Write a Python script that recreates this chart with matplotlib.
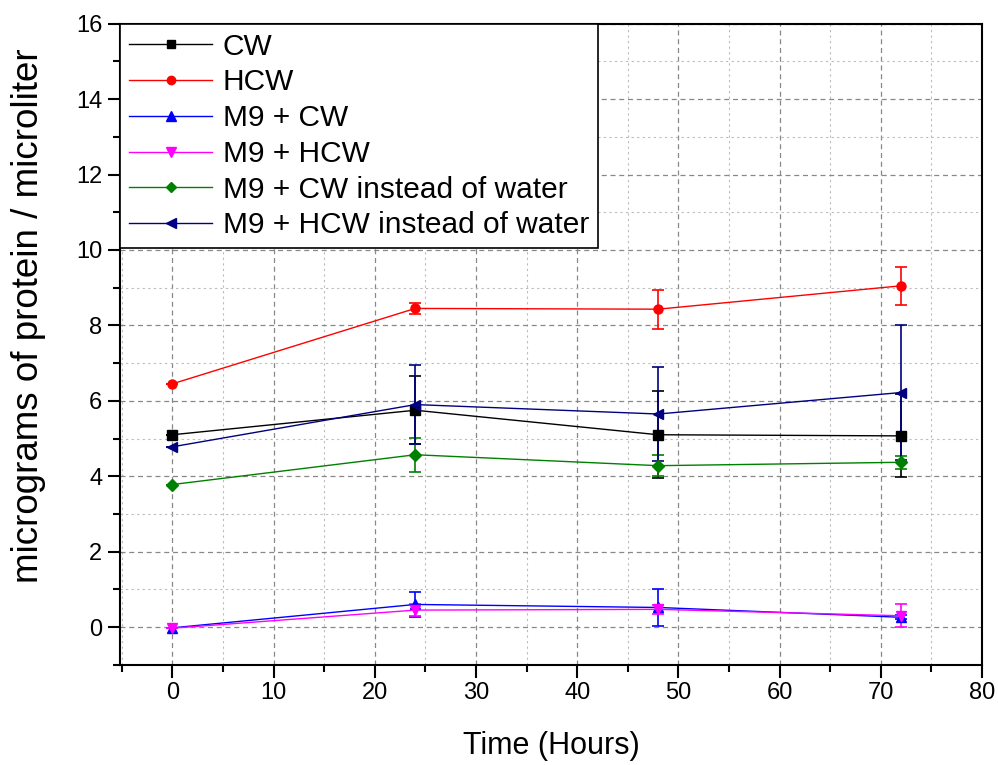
import matplotlib
matplotlib.use("Agg")
import matplotlib.pyplot as plt
from matplotlib.lines import Line2D
from matplotlib.ticker import MultipleLocator

plt.rcParams['font.family'] = ['Liberation Sans', 'DejaVu Sans']

# data
hours = [0, 24, 48, 72]
labels = ["CW", "HCW", "M9 + CW", "M9 + HCW",
          "M9 + CW instead of water", "M9 + HCW instead of water"]
cw = [5.1, 5.75, 5.1, 5.07]
cw_err = [0, 0.9, 1.15, 1.1]
hcw = [6.45, 8.45, 8.43, 9.05]
hcw_err = [0, 0.15, 0.52, 0.5]
m9_cw = [-0.02, 0.6, 0.52, 0.26]
m9_cw_err = [0, 0.33, 0.5, 0.05]
m9_hcw = [-0.03, 0.45, 0.47, 0.3]
m9_hcw_err = [0, 0.15, 0.12, 0.3]
m9_cw_w = [3.78, 4.57, 4.28, 4.37]
m9_cw_w_err = [0, 0.45, 0.27, 0.17]
m9_hcw_w = [4.78, 5.9, 5.65, 6.22]
m9_hcw_w_err = [0, 1.05, 1.25, 1.8]

series = [cw, hcw, m9_cw, m9_hcw, m9_cw_w, m9_hcw_w]
errs = [cw_err, hcw_err, m9_cw_err, m9_hcw_err, m9_cw_w_err, m9_hcw_w_err]
colors = ['black', '#ff0000', '#0000ff', '#ff00ff', '#008000', '#000080']
markers = ['s', 'o', '^', 'v', 'D', '<']
msizes = [6.5, 6.5, 7, 7, 6, 7]

fig = plt.figure(figsize=(9.98, 7.65), dpi=100)
ax = fig.add_axes([0.120, 0.131, 0.864, 0.838])

handles = []
for y, e, c, m, ms, lab in zip(series, errs, colors, markers, msizes, labels):
    ax.errorbar(hours, y, yerr=e, color=c, marker=m, markersize=ms, linewidth=1,
                elinewidth=1.2, capsize=4.5, capthick=1.2)
    handles.append(Line2D([], [], color=c, marker=m, markersize=ms - 0.5,
                          linewidth=1, label=lab))

ax.set_xlim(-5.2, 80)
ax.set_ylim(-1, 16)
ax.xaxis.set_major_locator(MultipleLocator(10))
ax.xaxis.set_minor_locator(MultipleLocator(5))
ax.yaxis.set_major_locator(MultipleLocator(2))
ax.yaxis.set_minor_locator(MultipleLocator(1))

ax.grid(which='major', color='#888888', linestyle=(0, (4, 3)), linewidth=0.9)
ax.grid(which='minor', color='#bbbbbb', linestyle=(0, (2, 3)), linewidth=0.8)
ax.set_axisbelow(True)

ax.tick_params(which='major', direction='out', length=9, width=1.5, labelsize=17)
ax.tick_params(which='minor', direction='out', length=5, width=1.5)
ax.tick_params(top=False, right=False)
for s in ax.spines.values():
    s.set_linewidth(1.5)

ax.set_xlabel("Time (Hours)", fontsize=22, labelpad=19)
ax.set_ylabel("micrograms of protein / microliter", fontsize=26.5)
ax.yaxis.set_label_coords(-0.085, 0.545)

leg = ax.legend(handles=handles, loc='upper left', fontsize=21.5, frameon=True,
                fancybox=False, borderaxespad=0, handlelength=2.8,
                labelspacing=0.26, borderpad=0.3, handletextpad=0.35)
leg.get_frame().set_edgecolor('black')
leg.get_frame().set_linewidth(1.2)
leg.get_frame().set_alpha(1)

fig.savefig("out.png", dpi=100)
